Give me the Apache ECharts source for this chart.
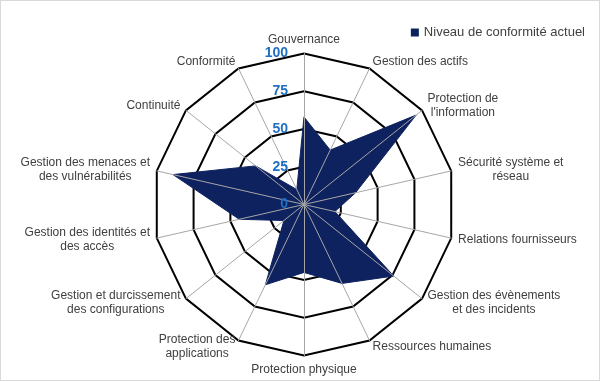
<!DOCTYPE html>
<html>
<head>
<meta charset="utf-8">
<script src="https://cdn.jsdelivr.net/npm/echarts@6/dist/echarts.min.js"></script>
<style>
html,body{margin:0;padding:0;background:#fff;}
#c{width:600px;height:381px;box-sizing:border-box;border:1px solid #d9d9d9;}
</style>
</head>
<body>
<div id="c"></div>
<script>
// Clockwise from the top
const categories = [
  "Gouvernance",
  "Gestion des actifs",
  "Protection de\nl'information",
  "Sécurité système et\nréseau",
  "Relations fournisseurs",
  "Gestion des évènements\net des incidents",
  "Ressources humaines",
  "Protection physique",
  "Protection des\napplications",
  "Gestion et durcissement\ndes configurations",
  "Gestion des identités et\ndes accès",
  "Gestion des menaces et\ndes vulnérabilités",
  "Continuité",
  "Conformité"
];
const values = [58, 40, 95, 35, 21, 76, 58, 45, 59, 17, 44, 89, 41, 11];
const seriesName = "Niveau de conformité actuel";
const axisMin = 0, axisMax = 100, splitCount = 4;

// ECharts lays indicators counter-clockwise: reorder so they read clockwise.
const order = [0].concat(categories.map((_, i) => i).slice(1).reverse());
const indNames = order.map(i => categories[i]);
const indValues = order.map(i => values[i]);

const navy = '#0f2260';
const chart = echarts.init(document.getElementById('c'));
const baseRadar = {
  center: [303, 203.5],
  radius: 151,
  startAngle: 90,
  shape: 'polygon',
  splitNumber: splitCount
};
chart.setOption({
  animation: false,
  legend: {
    right: 9, top: 20,
    icon: 'rect', itemWidth: 8, itemHeight: 8, itemGap: 5,
    textStyle: {fontFamily: 'Liberation Sans', fontSize: 13, color: '#404040'},
    data: [seriesName]
  },
  radar: [
    Object.assign({}, baseRadar, {
      z: 0,
      axisNameGap: 7,
      indicator: indNames.map(n => ({name: n, min: axisMin, max: axisMax})),
      axisName: {
        color: '#404040', fontFamily: 'Liberation Sans', fontSize: 12, lineHeight: 14,
        formatter: function (n) {
          return n.split('\n').map(l => '{c|' + l + '}').join('\n');
        },
        rich: {c: {align: 'center', color: '#404040', fontFamily: 'Liberation Sans', fontSize: 12, lineHeight: 14}}
      },
      axisLine: {show: false},
      splitLine: {lineStyle: {color: '#000', width: 2}},
      splitArea: {show: false}
    }),
    Object.assign({}, baseRadar, {
      z: 5,
      silent: true,
      indicator: indNames.map((n, i) => {
        const o = {name: '', min: axisMin, max: axisMax};
        if (i === 0) {
          o.axisLabel = {show: true, color: '#1f6fc2', fontWeight: 'bold', fontSize: 14,
                         fontFamily: 'Liberation Sans', margin: 16};
        }
        return o;
      }),
      axisName: {show: false},
      axisLine: {lineStyle: {color: '#a6a6a6', width: 1}},
      axisTick: {show: false},
      axisLabel: {show: false},
      splitLine: {show: false},
      splitArea: {show: false}
    })
  ],
  series: [{
    type: 'radar',
    radarIndex: 0,
    z: 2,
    symbol: 'none',
    lineStyle: {color: navy, width: 1},
    areaStyle: {color: navy, opacity: 1},
    itemStyle: {color: navy},
    data: [{name: seriesName, value: indValues}]
  }]
});
</script>
</body>
</html>
